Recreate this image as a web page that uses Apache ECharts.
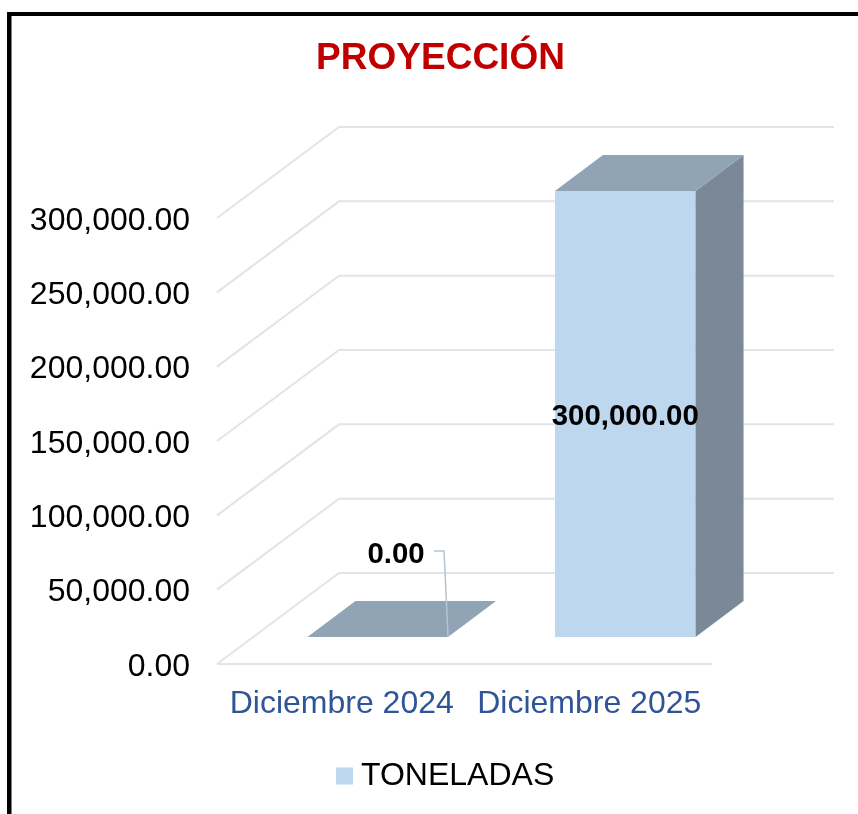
<!DOCTYPE html>
<html>
<head>
<meta charset="utf-8">
<title>PROYECCIÓN</title>
<style>
  html, body { margin: 0; padding: 0; background: #fff; }
  #chart { width: 858px; height: 814px; }
</style>
<script src="https://cdn.jsdelivr.net/npm/echarts@6/dist/echarts.min.js"></script>
</head>
<body>
<div id="chart"></div>
<script>
var categories = ['Diciembre 2024', 'Diciembre 2025'];
var toneladas = [0, 300000];
var tickValues = [0, 50000, 100000, 150000, 200000, 250000, 300000];

var fontName = '"Liberation Sans", Arial, sans-serif';
var depthX = 122, depthY = 91;   // wall depth of the fake 3D box
var barDepthX = 48, barDepthY = 36;
var barShiftX = 37, barShiftY = 27;

function fmt(v) {
  return v.toLocaleString('en-US', { minimumFractionDigits: 2, maximumFractionDigits: 2 });
}

function renderWall(params, api) {
  var cs = params.coordSys;
  var y = api.coord([0, api.value(0)])[1];
  var left = cs.x, right = cs.x + cs.width;
  var style = { stroke: '#e1e4ea', lineWidth: 2, fill: null };
  var children = [{
    type: 'polyline',
    shape: { points: [[left, y], [left + depthX, y - depthY], [right + depthX, y - depthY]] },
    style: style
  }];
  if (api.value(0) === 0) {
    children.push({ type: 'line', shape: { x1: left, y1: y, x2: right, y2: y }, style: style });
  }
  return { type: 'group', children: children };
}

function renderBar(params, api) {
  var val = api.value(1);
  var top = api.coord([api.value(0), val]);
  var base = api.coord([api.value(0), 0]);
  var w = api.size([1, 0])[0] * 0.568;
  var x0 = top[0] + barShiftX - w / 2, x1 = x0 + w;
  var yTop = top[1] - barShiftY, yBase = base[1] - barShiftY;
  var children = [];
  if (val > 0) {
    children.push({
      type: 'rect',
      shape: { x: x0, y: yTop, width: w, height: yBase - yTop },
      style: { fill: '#bdd7ee' }
    });
    children.push({
      type: 'polygon',
      shape: { points: [[x1, yTop], [x1 + barDepthX, yTop - barDepthY], [x1 + barDepthX, yBase - barDepthY], [x1, yBase]] },
      style: { fill: '#7a8897' }
    });
  }
  children.push({
    type: 'polygon',
    shape: { points: [[x0, yTop], [x1, yTop], [x1 + barDepthX, yTop - barDepthY], [x0 + barDepthX, yTop - barDepthY]] },
    style: { fill: '#90a4b5' }
  });
  var labelX = (x0 + x1) / 2, labelY = (yTop + yBase) / 2 + 3;
  if (val === 0) {
    // label sits up and to the left, joined by a leader line
    labelX = x1 - 52;
    labelY = yBase - 82;
    children.push({
      type: 'polyline',
      shape: { points: [[x1 - 14, yBase - 86], [x1 - 4, yBase - 86], [x1, yBase]] },
      style: { stroke: '#b7c3d1', lineWidth: 1.5, fill: null }
    });
  }
  children.push({
    type: 'text',
    style: {
      x: labelX,
      y: labelY,
      text: fmt(val),
      align: 'center',
      verticalAlign: 'middle',
      fill: '#000',
      font: 'bold 29.4px ' + fontName
    }
  });
  return { type: 'group', children: children };
}

var chart = echarts.init(document.getElementById('chart'));

var option = {
  backgroundColor: '#FFFFFF',
  animation: false,
  title: {
    text: 'PROYECCIÓN',
    left: 435.5,
    top: 35,
    textAlign: 'center',
    textStyle: { color: '#c00000', fontFamily: fontName, fontWeight: 'bold', fontSize: 37 }
  },
  legend: {
    left: 331,
    top: 755,
    icon: 'rect',
    itemWidth: 17,
    itemHeight: 17,
    itemGap: 8,
    textStyle: { color: '#000', fontFamily: fontName, fontSize: 32, padding: [0, 0, 0, 3] },
    data: ['TONELADAS']
  },
  grid: { left: 217, top: 218, width: 495, height: 446, containLabel: false },
  xAxis: {
    type: 'category',
    data: categories,
    axisLine: { show: false },
    axisTick: { show: false },
    axisLabel: { color: '#2f5597', fontFamily: fontName, fontSize: 32, margin: 24, interval: 0, padding: [0, 0, 0, 2] }
  },
  yAxis: {
    type: 'value',
    min: 0,
    max: 300000,
    interval: 50000,
    splitLine: { show: false },
    axisLine: { show: false },
    axisTick: { show: false },
    axisLabel: {
      color: '#000',
      fontFamily: fontName,
      fontSize: 32,
      margin: 27,
      verticalAlign: 'top',
      lineHeight: 6,
      formatter: function (v) { return fmt(v); }
    }
  },
  graphic: [
    { type: 'rect', shape: { x: 7, y: 12, width: 851, height: 4 }, style: { fill: '#000' } },
    { type: 'rect', shape: { x: 7, y: 12, width: 4.5, height: 802 }, style: { fill: '#000' } }
  ],
  series: [
    {
      name: 'walls',
      type: 'custom',
      silent: true,
      clip: false,
      z: 1,
      renderItem: renderWall,
      encode: { y: 0 },
      data: tickValues.map(function (v) { return [v]; })
    },
    {
      name: 'TONELADAS',
      type: 'custom',
      clip: false,
      z: 2,
      itemStyle: { color: '#bdd7ee' },
      renderItem: renderBar,
      encode: { x: 0, y: 1 },
      data: toneladas.map(function (v, i) { return [i, v]; })
    }
  ]
};

chart.setOption(option);
</script>
</body>
</html>
